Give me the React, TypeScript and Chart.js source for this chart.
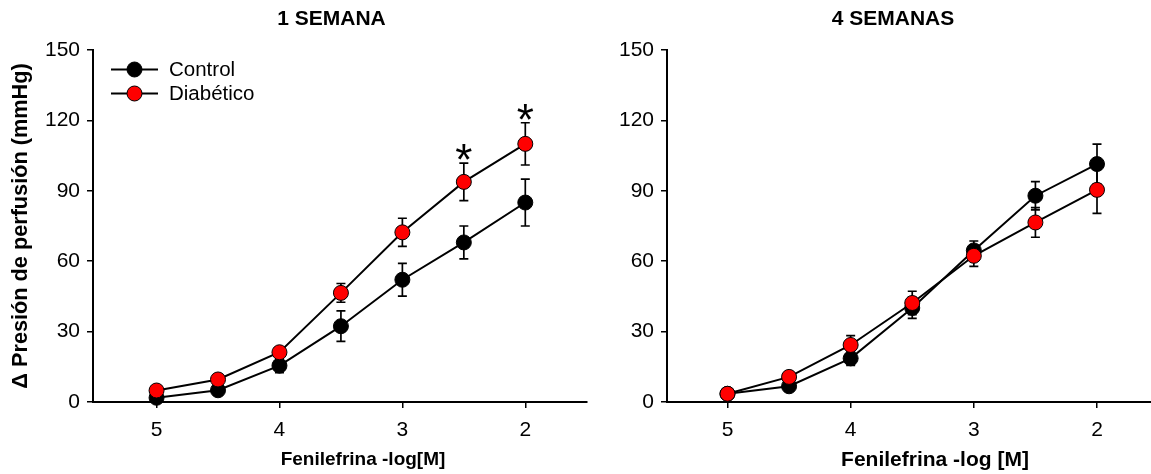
import React, { useEffect, useRef } from 'react';
import { Chart, registerables } from 'chart.js';

Chart.register(...registerables);

const FONT = "'Liberation Sans', Arial, sans-serif";

// ---- data ----
const doses = [5, 4.5, 4, 3.5, 3, 2.5, 2];
const xTicks = [5, 4, 3, 2];
const yTicks = [0, 30, 60, 90, 120, 150];
const seriesNames = ['Control', 'Diabético'];
const seriesColors = ['#000000', '#ff0000'];

const week1Control = [1.8, 5, 15.5, 32.3, 52.1, 68, 85];
const week1ControlErr = [1, 1.5, 3, 6.5, 7, 7, 10];
const week1Diab = [4.9, 9.6, 21.2, 46.5, 72.3, 93.8, 110];
const week1DiabErr = [1, 1.5, 2, 4, 6, 8, 9];
const week1DiabSig = [false, false, false, false, false, true, true];

const week4Control = [3.5, 6.7, 18.6, 40.1, 64.6, 87.9, 101.4];
const week4ControlErr = [1, 1.5, 3, 4.5, 4, 6, 8.5];
const week4Diab = [3.5, 10.7, 24.3, 42.2, 62.3, 76.5, 90.4];
const week4DiabErr = [1, 1.5, 4, 5, 4.5, 6.3, 10];
const week4DiabSig = [false, false, false, false, false, false, false];

const panelTitles = ['1 SEMANA', '4 SEMANAS'];
const xTitles = ['Fenilefrina -log[M]', 'Fenilefrina -log [M]'];
const yTitle = 'Δ Presión de perfusión (mmHg)';

// ---- plugins ----
const errorBarPlugin = {
  id: 'errorBars',
  beforeDatasetDraw(chart: any, args: any) {
    const ds = chart.data.datasets[args.index];
    if (!ds.errors) return;
    const ctx = chart.ctx;
    const xs = chart.scales.x;
    const ys = chart.scales.y;
    ctx.save();
    ctx.strokeStyle = '#000';
    ctx.lineWidth = 1.7;
    ds.data.forEach((p: any, i: number) => {
      const e = ds.errors[i];
      if (!e) return;
      const x = xs.getPixelForValue(p.x);
      const yt = ys.getPixelForValue(p.y + e);
      const yb = ys.getPixelForValue(p.y - e);
      ctx.beginPath();
      ctx.moveTo(x, yt);
      ctx.lineTo(x, yb);
      ctx.moveTo(x - 4.5, yt);
      ctx.lineTo(x + 4.5, yt);
      ctx.moveTo(x - 4.5, yb);
      ctx.lineTo(x + 4.5, yb);
      ctx.stroke();
    });
    ctx.restore();
  },
};

const annotPlugin = {
  id: 'annot',
  afterDraw(chart: any, _args: any, opts: any) {
    const ctx = chart.ctx;
    const xs = chart.scales.x;
    const ys = chart.scales.y;
    ctx.save();
    ctx.fillStyle = '#000';
    // panel title
    ctx.font = `bold 21px ${FONT}`;
    ctx.textAlign = 'center';
    ctx.textBaseline = 'middle';
    ctx.fillText(opts.title, opts.titleX, 19);
    // x title
    ctx.font = `bold ${opts.xTitleSize}px ${FONT}`;
    ctx.fillText(opts.xTitle, opts.xTitleX, 460);
    // asterisks
    ctx.font = `44px ${FONT}`;
    chart.data.datasets.forEach((ds: any) => {
      if (!ds.sig) return;
      ds.data.forEach((p: any, i: number) => {
        if (!ds.sig[i]) return;
        const x = xs.getPixelForValue(p.x);
        const cy = ys.getPixelForValue(p.y + (ds.errors ? ds.errors[i] : 0)) - 11;
        ctx.textBaseline = 'alphabetic';
        const m = ctx.measureText('*');
        const base = cy + (m.actualBoundingBoxAscent - m.actualBoundingBoxDescent) / 2;
        ctx.fillText('*', x, base);
      });
    });
    // legend
    if (opts.legend) {
      const rows = [69.5, 93.5];
      chart.data.datasets.forEach((ds: any, i: number) => {
        const y = rows[i];
        ctx.strokeStyle = '#000';
        ctx.lineWidth = 2;
        ctx.beginPath();
        ctx.moveTo(111, y);
        ctx.lineTo(158, y);
        ctx.stroke();
        ctx.beginPath();
        ctx.arc(134.5, y, 7.5, 0, Math.PI * 2);
        ctx.fillStyle = ds.pointBackgroundColor;
        ctx.fill();
        ctx.lineWidth = 1;
        ctx.stroke();
        ctx.fillStyle = '#000';
        ctx.font = `20.5px ${FONT}`;
        ctx.textAlign = 'left';
        ctx.textBaseline = 'middle';
        ctx.fillText(ds.label, 169, y + 1);
      });
    }
    ctx.restore();
  },
};

type PanelProps = {
  width: number;
  left: number;
  series: number[][];
  errors: number[][];
  sig: boolean[];
  title: string;
  titleX: number;
  xTitle: string;
  xTitleX: number;
  xTitleSize: number;
  xMin: number;
  xMax: number;
  yAxisWidth: number;
  padRight: number;
  showYTitle: boolean;
  legend: boolean;
};

function Panel(p: PanelProps) {
  const ref = useRef<HTMLCanvasElement | null>(null);
  useEffect(() => {
    if (!ref.current) return;
    const datasets = p.series.map((vals, si) => ({
      label: seriesNames[si],
      data: doses.map((x, i) => ({ x, y: vals[i] })),
      borderColor: '#000',
      borderWidth: 2,
      pointRadius: 7.5,
      pointHoverRadius: 7.5,
      pointBackgroundColor: seriesColors[si],
      pointBorderColor: '#000',
      pointBorderWidth: 1,
      tension: 0,
      clip: false,
      order: p.series.length - si,
      errors: p.errors[si],
      sig: si === 1 ? p.sig : null,
    }));
    const gridCfg = {
      display: true,
      drawOnChartArea: false,
      drawTicks: true,
      tickLength: 6,
      color: '#000',
      lineWidth: 1.5,
    };
    const chart = new Chart(ref.current, {
      type: 'line',
      data: { datasets } as any,
      plugins: [errorBarPlugin, annotPlugin],
      options: {
        animation: false,
        responsive: false,
        events: [],
        layout: { autoPadding: false, padding: { left: 0, right: p.padRight, top: 50, bottom: 0 } },
        plugins: {
          legend: { display: false },
          tooltip: { enabled: false },
          title: { display: false },
          annot: {
            title: p.title,
            titleX: p.titleX,
            xTitle: p.xTitle,
            xTitleX: p.xTitleX,
            xTitleSize: p.xTitleSize,
            legend: p.legend,
          },
        } as any,
        scales: {
          x: {
            type: 'linear',
            reverse: true,
            min: p.xMin,
            max: p.xMax,
            afterBuildTicks: (s: any) => {
              s.ticks = xTicks.map((v) => ({ value: v }));
            },
            afterFit: (s: any) => {
              s.height = 72;
            },
            border: { display: true, color: '#000', width: 2 },
            grid: gridCfg,
            ticks: {
              color: '#000',
              font: { family: FONT, size: 21 },
              padding: 10,
              maxRotation: 0,
              autoSkip: false,
              callback: (v: any) => String(v),
            },
          },
          y: {
            type: 'linear',
            min: 0,
            max: 150,
            afterBuildTicks: (s: any) => {
              s.ticks = yTicks.map((v) => ({ value: v }));
            },
            afterFit: (s: any) => {
              s.width = p.yAxisWidth;
            },
            border: { display: true, color: '#000', width: 2 },
            grid: gridCfg,
            ticks: {
              color: '#000',
              font: { family: FONT, size: 21 },
              padding: 7,
              autoSkip: false,
              callback: (v: any) => String(v),
            },
            title: {
              display: p.showYTitle,
              text: yTitle,
              color: '#000',
              font: { family: FONT, size: 21.7, weight: 'bold' },
              padding: { top: 8, bottom: 0 },
            },
          },
        },
      } as any,
    });
    return () => chart.destroy();
  }, []);
  return (
    <canvas
      ref={ref}
      width={p.width}
      height={474}
      style={{ position: 'absolute', left: p.left, top: 0, display: 'block' }}
    />
  );
}

export default function App() {
  return (
    <div
      style={{
        position: 'fixed',
        left: 0,
        top: 0,
        width: 1151,
        height: 474,
        background: '#fff',
        overflow: 'hidden',
      }}
    >
      <Panel
        width={600}
        left={0}
        series={[week1Control, week1Diab]}
        errors={[week1ControlErr, week1DiabErr]}
        sig={week1DiabSig}
        title={panelTitles[0]}
        titleX={331.5}
        xTitle={xTitles[0]}
        xTitleX={363}
        xTitleSize={19}
        xMin={1.498}
        xMax={5.517}
        yAxisWidth={93}
        padRight={13}
        showYTitle={true}
        legend={true}
      />
      <Panel
        width={551}
        left={600}
        series={[week4Control, week4Diab]}
        errors={[week4ControlErr, week4DiabErr]}
        sig={week4DiabSig}
        title={panelTitles[1]}
        titleX={293}
        xTitle={xTitles[1]}
        xTitleX={335}
        xTitleSize={21}
        xMin={1.5616}
        xMax={5.491}
        yAxisWidth={67}
        padRight={0}
        showYTitle={false}
        legend={false}
      />
    </div>
  );
}
